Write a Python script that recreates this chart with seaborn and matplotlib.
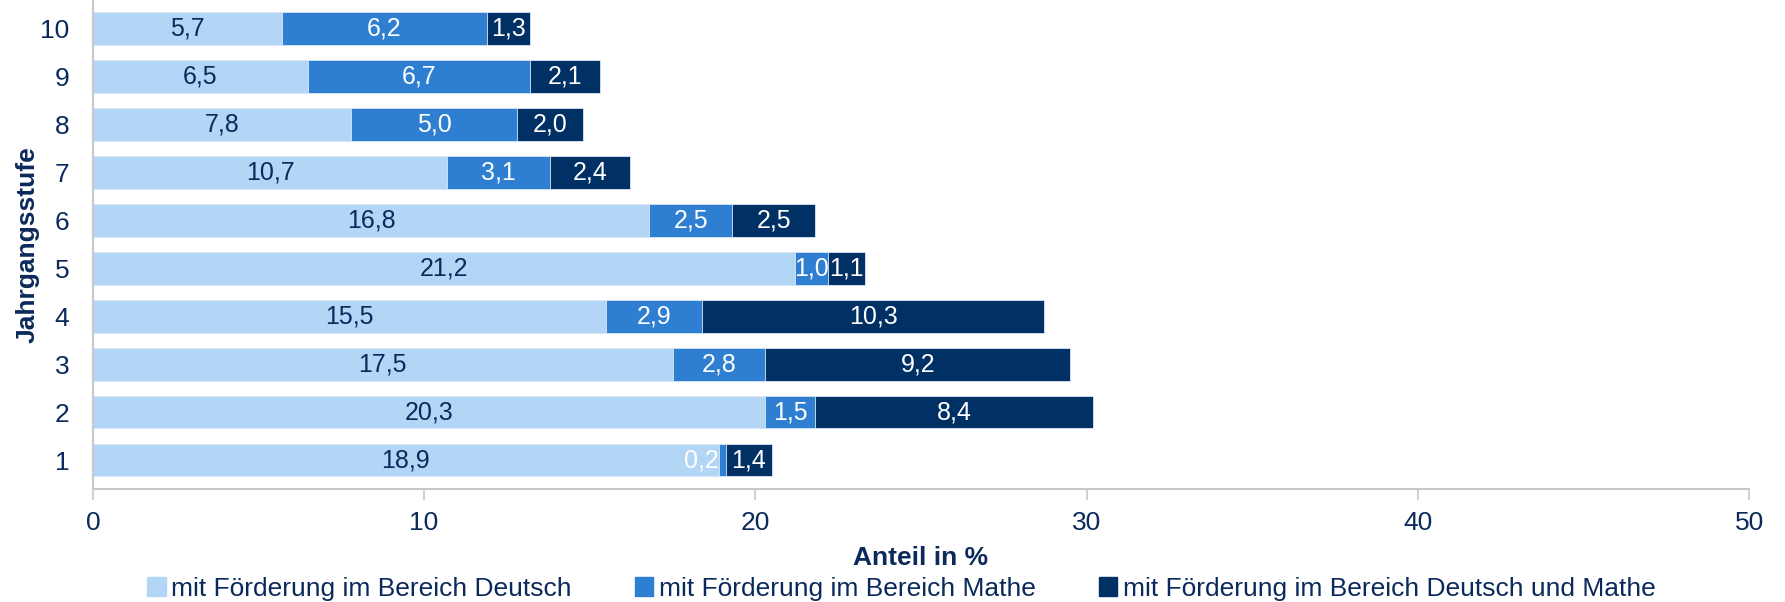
import matplotlib
matplotlib.use("Agg")
import matplotlib.pyplot as plt
import numpy as np
import pandas as pd
import seaborn as sns
from matplotlib.patches import Patch

# Werte je Jahrgangsstufe (oben 10, unten 1)
stufen = ["10", "9", "8", "7", "6", "5", "4", "3", "2", "1"]
deutsch = [5.7, 6.5, 7.8, 10.7, 16.8, 21.2, 15.5, 17.5, 20.3, 18.9]
mathe = [6.2, 6.7, 5.0, 3.1, 2.5, 1.0, 2.9, 2.8, 1.5, 0.2]
beides = [1.3, 2.1, 2.0, 2.4, 2.5, 1.1, 10.3, 9.2, 8.4, 1.4]
series_names = ["mit Förderung im Bereich Deutsch",
                "mit Förderung im Bereich Mathe",
                "mit Förderung im Bereich Deutsch und Mathe"]

c_light = "#b4d6f6"
c_mid = "#2e7fd2"
c_dark = "#003064"
navy = "#0b2a5b"

df = pd.DataFrame({"stufe": stufen, "d": deutsch, "m": mathe, "b": beides})
df["dm"] = df["d"] + df["m"]
df["total"] = df["dm"] + df["b"]

sns.set_theme(style="white")
plt.rcParams["font.family"] = ["Liberation Sans", "DejaVu Sans"]

fig = plt.figure(figsize=(17.85, 6.02), dpi=100)
ax = fig.add_axes([0.052, 0.188, 0.928, 0.812])

# stacked via overlay of cumulative sums
for col, color in [("total", c_dark), ("dm", c_mid), ("d", c_light)]:
    sns.barplot(data=df, x=col, y="stufe", order=stufen, color=color,
                width=0.68, saturation=1, ax=ax, orient="h",
                edgecolor="#dce9f7", linewidth=0.6)

fs = 19
lfs = 18
for i, row in df.iterrows():
    ax.text(row["d"] / 2, i, f"{row['d']:.1f}".replace(".", ","),
            ha="center", va="center", color=navy, fontsize=lfs)
    if row["m"] < 0.5:
        ax.text(row["d"], i, f"{row['m']:.1f}".replace(".", ","),
                ha="right", va="center", color="white", fontsize=lfs)
    else:
        ax.text(row["d"] + row["m"] / 2, i, f"{row['m']:.1f}".replace(".", ","),
                ha="center", va="center", color="white", fontsize=lfs)
    ax.text(row["dm"] + row["b"] / 2, i, f"{row['b']:.1f}".replace(".", ","),
            ha="center", va="center", color="white", fontsize=lfs)

ax.set_xlim(0, 50)
ax.set_ylim(9.6, -0.6)
ax.set_xticks([0, 10, 20, 30, 40, 50])
for s in ["top", "right"]:
    ax.spines[s].set_visible(False)
for s in ["left", "bottom"]:
    ax.spines[s].set_color("#c8c8c8")
    ax.spines[s].set_linewidth(1.5)
ax.tick_params(axis="x", bottom=True, length=8, width=1.2, color="#c8c8c8",
               labelsize=fs, labelcolor=navy, pad=8)
ax.tick_params(axis="y", left=False, labelsize=fs, labelcolor=navy, pad=11)

ax.set_xlabel("Anteil in %", fontsize=fs, fontweight="bold", color=navy)
ax.xaxis.set_label_coords(0.5, -0.117)
ax.set_ylabel("Jahrgangsstufe", fontsize=fs, fontweight="bold", color=navy)
ax.yaxis.set_label_coords(-0.032, 0.5)

handles = [Patch(color=c) for c in (c_light, c_mid, c_dark)]
leg = fig.legend(handles, series_names, loc="center", bbox_to_anchor=(0.505, 0.022),
                 ncol=3, frameon=False, fontsize=fs, handlelength=0.7, handleheight=0.7,
                 handletextpad=0.2, columnspacing=2.4)
for t in leg.get_texts():
    t.set_color(navy)

fig.savefig("out.png", dpi=100)
